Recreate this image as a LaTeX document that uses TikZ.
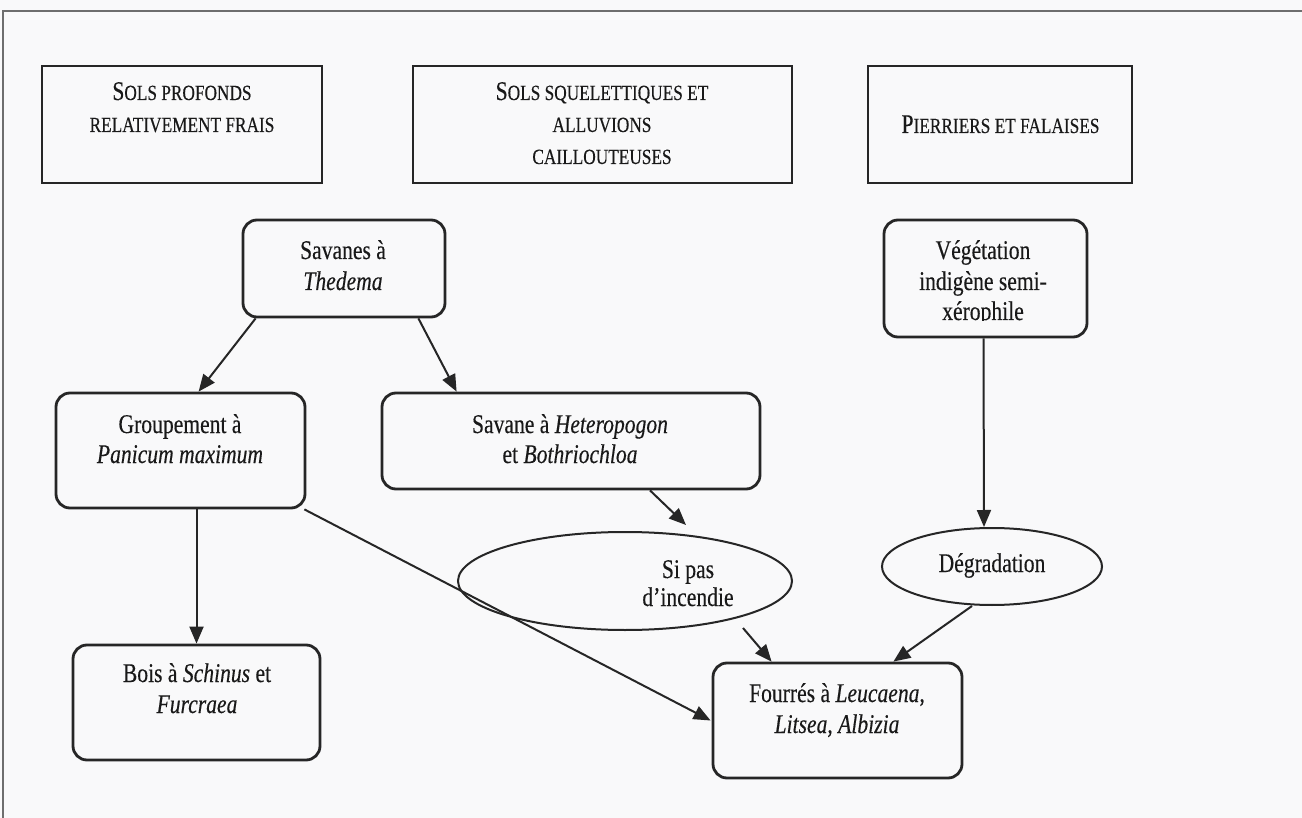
\documentclass[tikz,border=0pt]{standalone}
\usepackage{fontspec}
\setmainfont{Liberation Serif}[FakeStretch=0.8,FakeBold=0.3]
\usetikzlibrary{shapes.geometric,arrows.meta,calc}
\definecolor{ink}{HTML}{262626}
\definecolor{bg}{HTML}{F9F9FA}
\definecolor{frm}{HTML}{6E6E6E}
\newcommand\smc[1]{{\fontsize{10.8}{13}\selectfont #1}}
\begin{document}
\begin{tikzpicture}[x=0.5pt,y=-0.5pt,font=\fontsize{13.5}{15.5}\selectfont,
  hbox/.style={draw=ink, line width=1.4pt, rectangle, inner sep=0pt},
  rbox/.style={draw=ink, line width=1.4pt, rectangle, rounded corners=7pt, inner sep=0pt},
  ell/.style={draw=ink, line width=1pt, ellipse, inner sep=0pt},
  lbl/.style={anchor=base, inner sep=0pt, text=black!90},
  arr/.style={draw=ink, line width=1pt, -{Triangle[length=8.5pt,width=7pt]}}]
\fill[bg] (0,0) rectangle (1302,818);
\useasboundingbox (0,0) rectangle (1302,818);
\draw[frm, line width=0.9pt] (3,818) -- (3,11) -- (1302,11);

% header boxes
\node[hbox, minimum width=140pt, minimum height=58.5pt] (h1) at (182,124.5) {};
\node[lbl] (h1a) at (182,100) {S\smc{OLS PROFONDS}};
\node[lbl] (h1b) at (182,132) {\smc{RELATIVEMENT FRAIS}};
\node[hbox, minimum width=189.5pt, minimum height=58.5pt] (h2) at (602.5,124.5) {};
\node[lbl] (h2a) at (602,100) {S\smc{OLS SQUELETTIQUES ET}};
\node[lbl] (h2b) at (602,132) {\smc{ALLUVIONS}};
\node[lbl] (h2c) at (602,164) {\smc{CAILLOUTEUSES}};
\node[hbox, minimum width=132pt, minimum height=58.5pt] (h3) at (1000,124.5) {};
\node[lbl] (h3a) at (1000.5,133) {P\smc{IERRIERS ET FALAISES}};

% rounded boxes
\node[rbox, minimum width=101pt, minimum height=48.5pt] (sav) at (344,268.5) {};
\node[lbl] (sava) at (343,259) {Savanes à};
\node[lbl] (savb) at (343,290) {\textit{Thedema}};

\node[rbox, minimum width=124.5pt, minimum height=57.5pt] (grp) at (180.5,450.5) {};
\node[lbl] (grpa) at (180,433) {Groupement à};
\node[lbl] (grpb) at (180,463) {\textit{Panicum maximum}};

\node[rbox, minimum width=189pt, minimum height=48pt] (het) at (571,441) {};
\node[lbl] (heta) at (570,433) {Savane à \textit{Heteropogon}};
\node[lbl] (hetb) at (570,463) {et \textit{Bothriochloa}};

\node[rbox, minimum width=101.5pt, minimum height=58.5pt] (veg) at (985.5,278.5) {};
\node[lbl] (vega) at (983,259) {Végétation};
\node[lbl] (vegb) at (983,290) {indigène semi-};
\begin{scope}
\clip (884,220) rectangle (1087,321);
\node[lbl] (vegc) at (983,320) {xérophile};
\end{scope}

\node[rbox, minimum width=123.5pt, minimum height=57.5pt] (bois) at (196.5,702.5) {};
\node[lbl] (boisa) at (197,682) {Bois à \textit{Schinus} et};
\node[lbl] (boisb) at (197,713) {\textit{Furcraea}};

\node[rbox, minimum width=124.5pt, minimum height=57.5pt] (four) at (837.5,720.5) {};
\node[lbl] (foura) at (837,702) {Fourrés à \textit{Leucaena},};
\node[lbl] (fourb) at (837,733) {\textit{Litsea}, \textit{Albizia}};

% ellipses
\node[ell, minimum width=167pt, minimum height=49pt] (si) at (625,581) {};
\node[lbl] (sia) at (688,578) {Si pas};
\node[lbl] (sib) at (688,606) {d’incendie};

\node[ell, minimum width=110pt, minimum height=38.5pt] (deg) at (992,566.5) {};
\node[lbl] (dega) at (992,572) {Dégradation};

% connectors
\draw[arr] ($(sav.south west)+(14,0)$) -- ($(grp.north west)+(144,0)$);
\draw[arr] ($(sav.south east)+(-28,0)$) -- ($(het.north west)+(76,0)$);
\draw[arr] ($(grp.south)+(16,0)$) -- (bois.north);
\draw[arr] ($(grp.south east)+(-2,0)$) -- ($(four.west)+(-1,0)$);
\draw[arr] ($(het.south)+(79,0)$) -- ($(si.north)+(61,-6)$);
\draw[arr] ($(si.south)+(118,-3)$) -- ($(four.north west)+(60,0)$);
\draw[arr] ($(veg.south)+(-2,0)$) -- ($(deg.north)+(-8,0)$);
\draw[arr] ($(deg.south)+(-20,0)$) -- ($(four.north east)+(-70,0)$);
\end{tikzpicture}
\end{document}
